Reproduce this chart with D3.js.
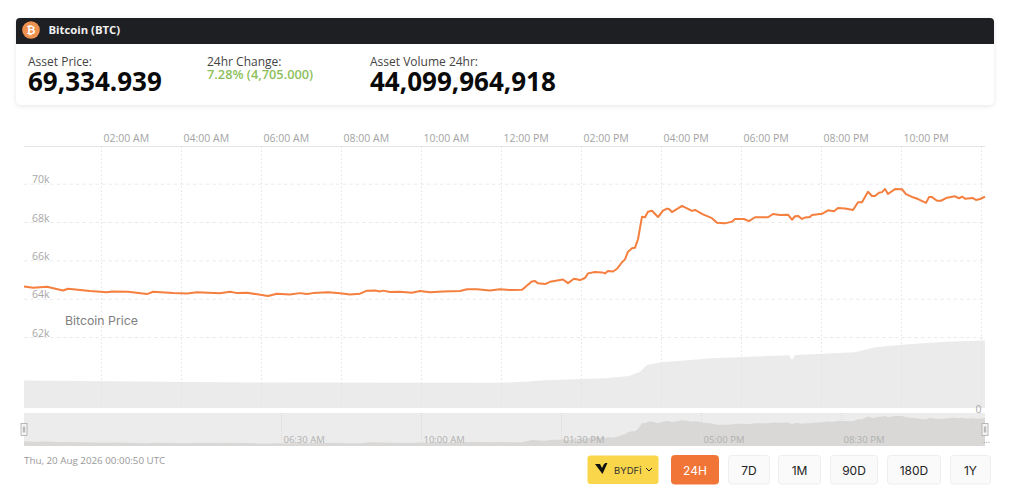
<!DOCTYPE html>
<html><head><meta charset="utf-8">
<script src="https://cdn.jsdelivr.net/npm/d3@7"></script>
<style>html,body{margin:0;padding:0;background:#fff;overflow:hidden}svg{display:block}</style>
</head><body><svg id="c" width="1024" height="494"></svg>
<script>
const priceHours=[.075,.30,.65,1.05,1.175,1.725,2.15,2.275,2.675,3.15,3.30,3.80,4.15,4.40,4.975,5.225,5.40,5.65,6.175,6.40,6.725,6.975,7.15,7.30,7.675,7.975,8.225,8.475,8.65,8.85,8.975,9.05,9.225,9.475,9.775,9.975,10.225,10.55,10.975,11.15,11.4,11.725,11.975,12.225,12.525,12.6,12.77,12.85,12.925,13.1,13.225,13.55,13.675,13.825,13.975,14.1,14.175,14.35,14.525,14.6,14.675,14.8,14.9,15.025,15.1,15.175,15.275,15.35,15.425,15.525,15.6,15.675,15.775,15.925,16.05,16.15,16.2,16.275,16.525,16.775,16.85,17.05,17.275,17.4,17.6,17.775,17.85,18.075,18.2,18.35,18.675,18.8,18.975,19.175,19.275,19.35,19.425,19.525,19.6,19.725,19.775,20.025,20.175,20.325,20.425,20.6,20.8,20.925,21.025,21.175,21.275,21.35,21.45,21.525,21.6,21.675,21.85,22.025,22.125,22.3,22.425,22.625,22.7,22.775,22.9,23.0,23.15,23.35,23.45,23.525,23.6,23.8,23.875,23.975,24.1];
const priceValues=[64.64,64.57,64.62,64.43,64.52,64.40,64.33,64.38,64.36,64.24,64.36,64.29,64.27,64.34,64.28,64.36,64.29,64.31,64.14,64.26,64.22,64.29,64.24,64.29,64.34,64.28,64.22,64.26,64.42,64.43,64.38,64.42,64.35,64.36,64.31,64.40,64.33,64.38,64.40,64.49,64.49,64.43,64.49,64.45,64.47,64.59,64.90,64.92,64.80,64.76,64.88,65.0,64.81,65.04,64.97,65.08,65.32,65.39,65.37,65.32,65.44,65.42,65.56,65.9,66.05,66.45,66.63,66.66,67.1,68.28,68.25,68.54,68.59,68.26,68.59,68.7,68.68,68.52,68.84,68.58,68.63,68.4,68.2,67.96,67.93,68.02,68.16,68.16,68.05,68.25,68.25,68.42,68.37,68.38,68.12,68.3,68.32,68.16,68.23,68.26,68.37,68.43,68.61,68.56,68.73,68.71,68.63,69.03,69.03,69.58,69.36,69.36,69.53,69.56,69.72,69.46,69.72,69.71,69.46,69.29,69.2,69.0,69.3,69.3,69.11,69.11,69.27,69.34,69.24,69.33,69.22,69.25,69.15,69.2,69.32];
const volumeHours=[.075,5.725,11.975,12.6,13.1,14.6,15.2,15.475,15.65,16.025,17.275,19.2,19.275,19.35,20.85,21.35,22.025,23.1,24.1];
const volumeValues=[18.0,16.7,16.5,17.2,18.1,19.4,20.9,23.7,28.1,29.9,32.5,34.4,31.4,34.6,36.4,39.7,41.4,43.3,44.1];
const timeTicks=[2,4,6,8,10,12,14,16,18,20,22,24];
const timeLabels=["02:00 AM","04:00 AM","06:00 AM","08:00 AM","10:00 AM","12:00 PM","02:00 PM","04:00 PM","06:00 PM","08:00 PM","10:00 PM",""];
const priceTicks=[62,64,66,68,70];
const navTicks=[6.5,10,13.5,17,20.5];
const navLabels=["06:30 AM","10:00 AM","01:30 PM","05:00 PM","08:30 PM"];
const rangeButtons=["24H","7D","1M","90D","180D","1Y"];
const stats=[["Asset Price:","69,334.939"],["24hr Change:","7.28% (4,705.000)"],["Asset Volume 24hr:","44,099,964,918"]];

const svg=d3.select("#c");
const defs=svg.append("defs");
const f=defs.append("filter").attr("id","sh").attr("x","-5%").attr("y","-20%").attr("width","110%").attr("height","140%");
f.append("feDropShadow").attr("dx",0).attr("dy",1).attr("stdDeviation",2.5).attr("flood-color","#000").attr("flood-opacity",.10);

const OS='"Open Sans",sans-serif', LS='Inter,"Liberation Sans",sans-serif';
// card
svg.append("rect").attr("x",16).attr("y",18).attr("width",978).attr("height",87).attr("rx",5).attr("fill","#fff").attr("filter","url(#sh)");
svg.append("path").attr("d","M16 44V22a4 4 0 0 1 4-4H990a4 4 0 0 1 4 4V44Z").attr("fill","#1e1f23");
svg.append("circle").attr("cx",31).attr("cy",30).attr("r",8.8).attr("fill","#f0924f");
svg.append("text").attr("x",31).attr("y",34).attr("text-anchor","middle").attr("font-family",OS).attr("font-weight",700).attr("font-size",11).attr("fill","#fff").text("₿");
svg.append("text").attr("x",48.5).attr("y",34).attr("font-family",OS).attr("font-weight",700).attr("font-size",11.3).attr("fill","#f2f2f2").text("Bitcoin (BTC)");
const statX=[28,207,370];
stats.forEach((s,i)=>{
  svg.append("text").attr("x",statX[i]).attr("y",65.5).attr("font-family",OS).attr("font-size",12).attr("fill","#444").text(s[0]);
  if(i===1) svg.append("text").attr("x",statX[i]).attr("y",78.5).attr("font-family",OS).attr("font-weight",600).attr("font-size",12.8).attr("fill","#8cbf5c").text(s[1]);
  else svg.append("text").attr("x",statX[i]).attr("y",90.5).attr("font-family",OS).attr("font-weight",700).attr("font-size",26).attr("fill","#0a0a0a").text(s[1]);
});

// scales
const x=d3.scaleLinear().domain([.075,24.1]).range([24,985]);
const y=d3.scaleLinear().domain([62,70]).range([337,183.7]);
const yVol=d3.scaleLinear().domain([0,44.1]).range([408,340.5]);
const yNav=d3.scaleLinear().domain([63.7,70.3]).range([446,413]);

// volume area
const volArea=d3.area().x((d,i)=>x(volumeHours[i])).y0(yVol(0)).y1(d=>yVol(d));
svg.append("path").attr("d",volArea(volumeValues)).attr("fill","#ebebeb");

// top line
svg.append("line").attr("x1",24).attr("x2",985).attr("y1",146.5).attr("y2",146.5).attr("stroke","#e4e4e4");

// time axis
const gx=svg.append("g").attr("transform","translate(0,146.5)").call(d3.axisTop(x).tickValues(timeTicks).tickFormat((d,i)=>timeLabels[i]).tickSize(-261).tickPadding(0));
gx.select(".domain").remove();
gx.selectAll("line").attr("stroke","#e2e2e2").attr("stroke-dasharray","1.5 2.5");
gx.selectAll("text").attr("text-anchor","start").attr("x",2).attr("y",-4.5).attr("dy",0).attr("font-family",OS).attr("font-size",10.5).attr("fill","#a3a3a3");

// price axis
const gy=svg.append("g").attr("transform","translate(24,0)").call(d3.axisRight(y).tickValues(priceTicks).tickFormat(d=>d+"k").tickSize(961));
gy.select(".domain").remove();
gy.selectAll("line").attr("stroke","#ebebeb").attr("stroke-dasharray","3.5 3");
gy.selectAll("text").attr("x",8).attr("dy",-1).attr("font-family",OS).attr("font-size",10.5).attr("fill","#a8a8a8");

// price line
const line=d3.line().x((d,i)=>x(priceHours[i])).y(d=>y(d));
svg.append("path").attr("d",line(priceValues)).attr("fill","none").attr("stroke","#f47f3e").attr("stroke-width",2).attr("stroke-linejoin","round");

svg.append("text").attr("x",65).attr("y",325).attr("font-family",LS).attr("font-size",12.3).attr("fill","#808080").text("Bitcoin Price");
svg.append("text").attr("x",975.5).attr("y",413).attr("font-family",OS).attr("font-size",10.5).attr("fill","#a8a8a8").text("0");

// navigator
svg.append("rect").attr("x",x.range()[0]).attr("y",413).attr("width",x.range()[1]-x.range()[0]).attr("height",33).attr("fill","#ececec");
const navArea=d3.area().x((d,i)=>x(priceHours[i])).y0(yNav(63.7)).y1(d=>yNav(d));
svg.append("path").attr("d",navArea(priceValues)).attr("fill","#d9d8d6");
const gn=svg.append("g").attr("transform","translate(0,446)").call(d3.axisTop(x).tickValues(navTicks).tickFormat((d,i)=>navLabels[i]).tickSize(33));
gn.select(".domain").remove();
gn.selectAll("line").attr("stroke","#dcdcdc").attr("stroke-dasharray","1 1");
gn.selectAll("text").attr("text-anchor","start").attr("x",2).attr("y",-3).attr("dy",0).attr("font-family",OS).attr("font-size",9.5).attr("fill","#b0b0b0");
// handles
x.range().forEach(px=>{
  svg.append("rect").attr("x",px-3).attr("y",423.5).attr("width",6).attr("height",12).attr("fill","#f4f4f4").attr("stroke","#aaa").attr("stroke-width",.8);
  svg.append("rect").attr("x",px-1.2).attr("y",426.5).attr("width",2.4).attr("height",6).attr("fill","#bbb");
});
svg.append("text").attr("x",983).attr("y",443).attr("font-family",OS).attr("font-size",9).attr("fill","#999").text("...");

svg.append("text").attr("x",24).attr("y",464).attr("font-family",OS).attr("font-size",9.8).attr("fill","#999").text("Thu, 20 Aug 2026 00:00:50 UTC");

// BYDFi button
svg.append("rect").attr("x",587.5).attr("y",455.5).attr("width",71).attr("height",28.5).attr("rx",3).attr("fill","#fad64a");
svg.append("path").attr("d","M595 464L600 464L602 468L604 464L607 464L602.5 474Z M604.5 463L607.5 463L606 466Z").attr("fill","#111");
svg.append("text").attr("x",614).attr("y",473.5).attr("font-family",LS).attr("font-size",9.5).attr("fill","#333").text("BYDFi");
svg.append("path").attr("d","M646 468l3 3l3 -3").attr("fill","none").attr("stroke","#222").attr("stroke-width",1);

// range buttons
const btnX=d3.scaleOrdinal().domain(rangeButtons).range([671,728,778,830,887,950]);
const btnW=d3.scaleOrdinal().domain(rangeButtons).range([48,42,43,48,54,41]);
rangeButtons.forEach((b,i)=>{
  const on=i===0;
  svg.append("rect").attr("x",btnX(b)+.5).attr("y",455.5).attr("width",btnW(b)-1).attr("height",28.5).attr("rx",3).attr("fill",on?"#f27538":"#fafafa").attr("stroke",on?"#f27538":"#eeeeee");
  svg.append("text").attr("x",btnX(b)+btnW(b)/2).attr("y",474.5).attr("text-anchor","middle").attr("font-family",LS).attr("font-size",12).attr("fill",on?"#fff":"#222").text(b);
});
</script></body></html>
